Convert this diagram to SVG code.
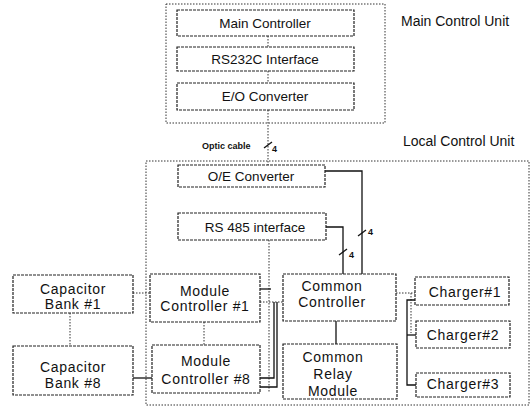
<svg xmlns="http://www.w3.org/2000/svg" width="532" height="416" viewBox="0 0 532 416">
  <style>
    .unit { fill: none; stroke: #333; stroke-width: 1; stroke-dasharray: 1.5 1.5; }
    .box { fill: #fff; stroke: #222; stroke-width: 1.2; stroke-dasharray: 3 1; }
    .dot { fill: none; stroke: #333; stroke-width: 1; stroke-dasharray: 1.5 1.5; }
    .wire { fill: none; stroke: #111; stroke-width: 1.3; }
    .label { font-family: "Liberation Sans", Arial, sans-serif; font-size: 13.5px; fill: #111; text-anchor: middle; }
    .wide { font-size: 14px; letter-spacing: 0.7px; }
    .title { font-family: "Liberation Sans", Arial, sans-serif; font-size: 14px; fill: #111; }
    .small { font-family: "Liberation Sans", Arial, sans-serif; font-size: 9px; font-weight: bold; fill: #111; }
  </style>

  <!-- unit enclosures -->
  <g id="main-control-unit">
    <rect class="unit" x="166" y="4" width="219" height="119"/>
    <text class="title" x="401" y="26">Main Control Unit</text>
  </g>
  <g id="local-control-unit">
    <rect class="unit" x="146" y="161" width="383" height="244"/>
    <text class="title" x="403" y="146" font-size="15">Local Control Unit</text>
  </g>

  <!-- connectors -->
  <g id="connectors">
    <!-- main unit internal links -->
    <line class="dot" x1="268" y1="36" x2="268" y2="47"/>
    <line class="dot" x1="268" y1="71" x2="268" y2="83"/>
    <!-- optic cable -->
    <line class="dot" x1="268" y1="110" x2="268" y2="165"/>
    <line class="wire" x1="264" y1="148" x2="272" y2="142"/>
    <text class="small" x="272" y="152">4</text>
    <text class="small" x="202" y="149">Optic cable</text>
    <!-- O/E converter to common controller -->
    <polyline class="wire" points="325,171 362,171 362,274"/>
    <line class="wire" x1="358" y1="236" x2="366" y2="230"/>
    <text class="small" x="368" y="235">4</text>
    <!-- RS485 to common controller -->
    <polyline class="wire" points="326,227 343,227 343,274"/>
    <line class="wire" x1="339" y1="255" x2="347" y2="249"/>
    <text class="small" x="349" y="258">4</text>
    <!-- RS485 bus down to module controllers -->
    <line class="dot" x1="269" y1="240" x2="269" y2="392"/>
    <line class="wire" x1="260" y1="289" x2="271" y2="289"/>
    <line class="dot" x1="260" y1="302" x2="283" y2="302"/>
    <polyline class="wire" points="260,378 274,378 274,302"/>
    <polyline class="wire" points="260,387 277,387 277,302"/>
    <!-- capacitor banks to module controllers -->
    <line class="dot" x1="133" y1="293" x2="150" y2="293"/>
    <line class="wire" x1="133" y1="378" x2="152" y2="378"/>
    <line class="dot" x1="70" y1="313" x2="70" y2="346"/>
    <line class="dot" x1="204" y1="322" x2="204" y2="345"/>
    <!-- common controller to relay module -->
    <line class="wire" x1="336" y1="321" x2="336" y2="344"/>
    <!-- common controller to chargers -->
    <line class="dot" x1="396" y1="293" x2="416" y2="293"/>
    <line class="dot" x1="411" y1="293" x2="411" y2="333"/>
    <polyline class="wire" points="416,300 407,300 407,385 416,385"/>
    <line class="wire" x1="407" y1="335" x2="416" y2="335"/>
  </g>

  <!-- main control unit blocks -->
  <g id="main-controller">
    <rect class="box" x="177" y="10" width="177" height="26"/>
    <text class="label" x="265" y="28">Main Controller</text>
  </g>
  <g id="rs232c-interface">
    <rect class="box" x="177" y="47" width="177" height="24"/>
    <text class="label" x="265" y="64">RS232C Interface</text>
  </g>
  <g id="eo-converter">
    <rect class="box" x="177" y="83" width="177" height="27"/>
    <text class="label" x="265" y="101">E/O Converter</text>
  </g>

  <!-- local control unit blocks -->
  <g id="oe-converter">
    <rect class="box" x="178" y="165" width="147" height="22"/>
    <text class="label" x="251" y="181">O/E Converter</text>
  </g>
  <g id="rs485-interface">
    <rect class="box" x="178" y="213" width="148" height="27"/>
    <text class="label" x="255" y="232">RS 485 interface</text>
  </g>
  <g id="capacitor-bank-1">
    <rect class="box" x="13" y="275" width="120" height="38"/>
    <text class="label wide" x="73" y="294">Capacitor</text>
    <text class="label wide" x="73" y="309">Bank #1</text>
  </g>
  <g id="capacitor-bank-8">
    <rect class="box" x="13" y="346" width="120" height="49"/>
    <text class="label wide" x="73" y="372">Capacitor</text>
    <text class="label wide" x="73" y="388">Bank #8</text>
  </g>
  <g id="module-controller-1">
    <rect class="box" x="150" y="274" width="110" height="48"/>
    <text class="label wide" x="205" y="296">Module</text>
    <text class="label wide" x="205" y="311">Controller #1</text>
  </g>
  <g id="module-controller-8">
    <rect class="box" x="152" y="345" width="108" height="48"/>
    <text class="label wide" x="206" y="366">Module</text>
    <text class="label wide" x="206" y="384">Controller #8</text>
  </g>
  <g id="common-controller">
    <rect class="box" x="283" y="274" width="113" height="47"/>
    <text class="label wide" x="332" y="291">Common</text>
    <text class="label wide" x="332" y="307">Controller</text>
  </g>
  <g id="common-relay-module">
    <rect class="box" x="283" y="344" width="114" height="55"/>
    <text class="label wide" x="333" y="362">Common</text>
    <text class="label wide" x="333" y="379">Relay</text>
    <text class="label wide" x="333" y="396">Module</text>
  </g>
  <g id="charger-1">
    <rect class="box" x="415" y="277" width="94" height="28"/>
    <text class="label wide" x="465" y="297">Charger#1</text>
  </g>
  <g id="charger-2">
    <rect class="box" x="416" y="321" width="94" height="27"/>
    <text class="label wide" x="463" y="340">Charger#2</text>
  </g>
  <g id="charger-3">
    <rect class="box" x="416" y="373" width="94" height="24"/>
    <text class="label wide" x="463" y="389">Charger#3</text>
  </g>
</svg>
